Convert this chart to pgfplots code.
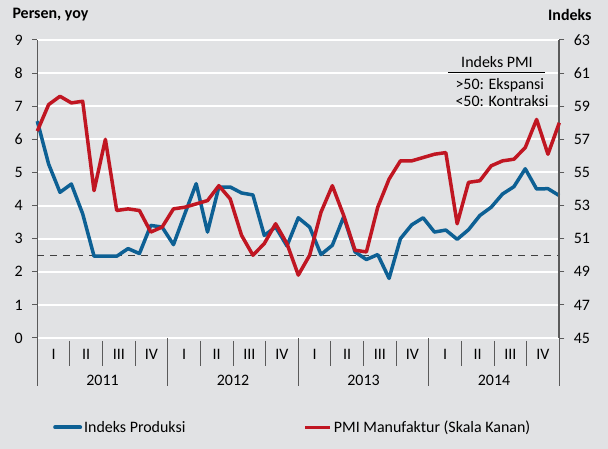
\documentclass[border=0pt]{standalone}
\usepackage{pgfplots}
\pgfplotsset{compat=1.18}
\usepackage{pgfplotstable}
\usepackage{fontspec}
\setmainfont{Carlito}

\definecolor{bg}{RGB}{225,226,228}
\definecolor{ipblue}{RGB}{13,96,148}
\definecolor{pmired}{RGB}{192,22,34}
\definecolor{axgray}{RGB}{90,90,90}
\newcommand\lab{\fontsize{16}{19}\selectfont}

% Indeks Produksi (persen, yoy), Jan 2011 - Nov 2014
\pgfplotstableread{
m v
0 6.55
1 5.25
2 4.40
3 4.65
4 3.75
5 2.47
6 2.47
7 2.47
8 2.70
9 2.55
10 3.40
11 3.35
12 2.82
13 3.75
14 4.66
15 3.20
16 4.56
17 4.56
18 4.38
19 4.32
20 3.10
21 3.35
22 2.78
23 3.63
24 3.35
25 2.52
26 2.80
27 3.66
28 2.60
29 2.37
30 2.52
31 1.80
32 3.00
33 3.42
34 3.63
35 3.20
36 3.26
37 2.98
38 3.27
39 3.70
40 3.95
41 4.35
42 4.57
43 5.11
44 4.50
45 4.51
46 4.30
}\produksi

% PMI Manufaktur (indeks)
\pgfplotstableread{
m v
0 57.5
1 59.1
2 59.6
3 59.2
4 59.3
5 53.9
6 57.0
7 52.7
8 52.8
9 52.7
10 51.4
11 51.7
12 52.8
13 52.9
14 53.1
15 53.3
16 54.2
17 53.4
18 51.2
19 50.0
20 50.7
21 51.9
22 50.7
23 48.8
24 50.0
25 52.6
26 54.2
27 52.4
28 50.3
29 50.2
30 52.9
31 54.6
32 55.7
33 55.7
34 55.9
35 56.1
36 56.2
37 51.9
38 54.4
39 54.5
40 55.4
41 55.7
42 55.8
43 56.5
44 58.2
45 56.1
46 58.0
}\pmi

\pgfplotsset{
  base/.style={
    scale only axis, width=522bp, height=298bp,
    at={(37.3bp,111bp)}, anchor=south west,
    xmin=0, xmax=46, clip=false,
    axis x line=none, xtick=\empty,
    tick align=outside, major tick length=5bp,
    /pgf/number format/assume math mode=true,
    yticklabel style={font=\lab},
  },
}

\begin{document}
\begin{tikzpicture}
\fill[bg] (0,0) rectangle (608bp,449bp);
\useasboundingbox (0,0) rectangle (608bp,449bp);

\begin{axis}[base,
  ymin=0, ymax=9, ytick={0,1,...,9},
  axis y line*=left,
  y axis line style={axgray, line width=1.5bp, -},
  ytick style={axgray, line width=1bp},
  yticklabel style={xshift=-6bp},
  ymajorgrids, grid style={white, line width=2bp},
]
\draw[black!75, line width=1.2bp, dash pattern=on 7bp off 6bp] (axis cs:0,2.5) -- (axis cs:46,2.5);
\addplot[ipblue, line width=3.5bp, line join=round] table[x=m, y=v] {\produksi};
% left axis extension and period separators
\draw[axgray, line width=1.5bp] (rel axis cs:0,0) -- ++(0,-48bp);
\pgfplotsinvokeforeach{11.5,23,34.5,46}{
  \draw[axgray, line width=1bp] (axis cs:#1,0) -- ++(0,-48bp);
}
\pgfplotsinvokeforeach{0,11.5,23,34.5}{
  \draw[axgray, line width=1bp] (axis cs:#1,0) ++(32.6bp,-3bp) -- ++(0,-25bp);
  \draw[axgray, line width=1bp] (axis cs:#1,0) ++(65.25bp,-3bp) -- ++(0,-25bp);
  \draw[axgray, line width=1bp] (axis cs:#1,0) ++(97.9bp,-3bp) -- ++(0,-25bp);
  \node[font=\lab] at (axis cs:#1,0) [xshift=16.3bp, yshift=-16bp] {I};
  \node[font=\lab] at (axis cs:#1,0) [xshift=48.9bp, yshift=-16bp] {II};
  \node[font=\lab] at (axis cs:#1,0) [xshift=81.6bp, yshift=-16bp] {III};
  \node[font=\lab] at (axis cs:#1,0) [xshift=114.2bp, yshift=-16bp] {IV};
}
\node[font=\lab] at (axis cs:5.75,0) [yshift=-42bp] {2011};
\node[font=\lab] at (axis cs:17.25,0) [yshift=-42bp] {2012};
\node[font=\lab] at (axis cs:28.75,0) [yshift=-42bp] {2013};
\node[font=\lab] at (axis cs:40.25,0) [yshift=-42bp] {2014};
\end{axis}

\begin{axis}[base,
  ymin=45, ymax=63, ytick={45,47,...,63},
  axis y line*=right,
  y axis line style={axgray, line width=2bp, -},
  ytick style={axgray, line width=1bp},
  yticklabel style={xshift=6bp},
  legend columns=2,
  legend cell align=left,
  legend image code/.code={\draw[#1] (0bp,0bp) -- (25bp,0bp);},
  legend style={at={(0.03,-0.30)}, anchor=west, draw=none, fill=none,
    inner sep=0pt, font=\lab,
    /tikz/every even column/.append style={column sep=116bp}},
]
\addlegendimage{ipblue, line width=4bp, line cap=round}
\addlegendentry{Indeks Produksi}
\addplot[pmired, line width=3.5bp, line join=round] table[x=m, y=v] {\pmi};
\addlegendentry{PMI Manufaktur (Skala Kanan)}
\end{axis}

\node[font=\lab\bfseries, anchor=west] at (9bp,434bp) {Persen, yoy};
\node[font=\lab\bfseries, anchor=east] at (595bp,434bp) {Indeks};
\node[font=\lab] at (497bp,387bp) {Indeks PMI};
\draw[black, line width=1.5bp] (448bp,376.5bp) -- (545bp,376.5bp);
\node[font=\lab, anchor=west] at (452bp,364bp) {>50: Ekspansi};
\node[font=\lab, anchor=west] at (452bp,348bp) {<50: Kontraksi};
\end{tikzpicture}
\end{document}
